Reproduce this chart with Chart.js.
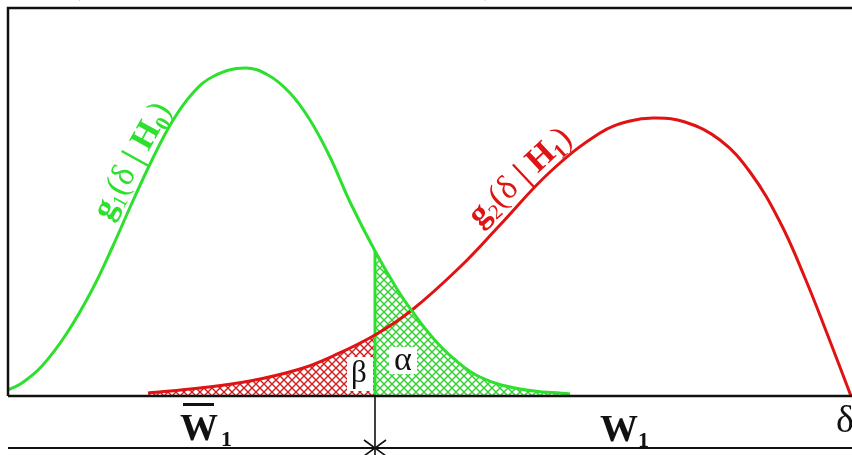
<!DOCTYPE html>
<html><head><meta charset="utf-8">
<script src="https://cdn.jsdelivr.net/npm/chart.js@4"></script>
<style>html,body{margin:0;padding:0;background:#fff;overflow:hidden}</style>
</head><body>
<canvas id="c" width="852" height="455"></canvas>
<script>
// Test statistic delta (arbitrary units) and densities
const greenX = [0, 14, 34, 59, 84, 104, 124, 144, 164, 184, 206, 237, 260, 282, 302, 322, 342, 367, 389, 404, 425, 445, 472, 512, 562];
const greenY = [6, 13, 30, 63, 106, 148, 193, 236, 274, 302, 320, 328, 321, 303, 276, 239, 194, 145, 107, 85, 58, 38, 19, 7, 2];
const redX = [140, 192, 242, 292, 325, 367, 404, 452, 492, 542, 592, 622, 647, 677, 712, 742, 772, 797, 820, 843];
const redY = [3, 8, 15, 27, 40, 61, 86, 129, 171, 224, 263, 275, 278, 274, 256, 224, 174, 118, 60, 0];
const criticalX = 367;
const xRange = [0, 844];
const yRange = [0, 388];
const curveNames = ['g1(δ|H0)', 'g2(δ|H1)'];
const areaNames = ['α', 'β'];
const regionNames = ['W̄1', 'W1'];
const axisName = 'δ';

const GREEN = '#2ee02e', RED = '#e01212';

function hatch(color) {
  const s = 8, c = document.createElement('canvas');
  c.width = s; c.height = s;
  const g = c.getContext('2d');
  g.fillStyle = '#fff'; g.fillRect(0, 0, s, s);
  g.strokeStyle = color; g.lineWidth = 1.4;
  g.beginPath();
  g.moveTo(-1, -1); g.lineTo(s + 1, s + 1);
  g.moveTo(-1, s + 1); g.lineTo(s + 1, -1);
  g.stroke();
  return g.createPattern(c, 'repeat');
}

const pts = (xs, ys) => xs.map((x, i) => ({x, y: ys[i]}));
const greenPts = pts(greenX, greenY);
const redPts = pts(redX, redY);
const alphaPts = greenPts.filter(p => p.x >= criticalX);
const betaPts = redPts.filter(p => p.x <= criticalX);
const critTop = greenY[greenX.indexOf(criticalX)];

function rich(ctx, parts, cx, cy, ang) {
  ctx.save();
  ctx.translate(cx, cy); ctx.rotate(ang);
  let w = 0;
  parts.forEach(p => { ctx.font = p.f; p.w = ctx.measureText(p.t).width; w += p.w; });
  let x = -w / 2;
  ctx.textBaseline = 'alphabetic';
  parts.forEach(p => { ctx.font = p.f; ctx.fillText(p.t, x, 11 + (p.dy || 0)); x += p.w; });
  ctx.restore();
}

const deco = {
  id: 'deco',
  afterDraw(chart) {
    const ctx = chart.ctx, a = chart.chartArea;
    const xs = chart.scales.x;
    const cp = xs.getPixelForValue(criticalX);
    ctx.save();
    // frame
    ctx.strokeStyle = '#111'; ctx.lineCap = 'butt';
    ctx.lineWidth = 2.5;
    ctx.beginPath();
    ctx.moveTo(a.left, a.bottom); ctx.lineTo(a.left, a.top); ctx.lineTo(852, a.top);
    ctx.moveTo(a.left, a.bottom); ctx.lineTo(852, a.bottom);
    ctx.stroke();
    // region line with arrows
    const ay = 448;
    ctx.lineWidth = 2;
    ctx.beginPath(); ctx.moveTo(a.left, ay); ctx.lineTo(852, ay); ctx.stroke();
    ctx.lineWidth = 1.6;
    ctx.beginPath(); ctx.moveTo(cp, a.bottom); ctx.lineTo(cp, 455); ctx.stroke();
    ctx.beginPath();
    ctx.moveTo(cp - 11, ay - 8); ctx.lineTo(cp, ay); ctx.lineTo(cp - 11, ay + 8);
    ctx.moveTo(cp + 11, ay - 8); ctx.lineTo(cp, ay); ctx.lineTo(cp + 11, ay + 8);
    ctx.stroke();
    // alpha / beta labels on white boxes
    ctx.fillStyle = '#fff';
    ctx.fillRect(cp - 28, 357, 26, 34);
    ctx.fillRect(cp + 14, 347, 28, 27);
    ctx.fillStyle = '#111';
    ctx.textAlign = 'center'; ctx.textBaseline = 'alphabetic';
    ctx.font = '31px "Liberation Serif"';
    ctx.fillText(areaNames[1], cp - 16, 382);
    ctx.font = '34px "Liberation Serif"';
    ctx.fillText(areaNames[0], cp + 28, 370);
    // region names
    ctx.textAlign = 'left';
    ctx.font = 'bold 38px "Liberation Serif"';
    ctx.fillText('W', 180, 440);
    ctx.fillText('W', 600, 441);
    ctx.font = 'bold 22px "Liberation Serif"';
    ctx.fillText('1', 221, 446);
    ctx.fillText('1', 638, 447);
    ctx.fillRect(183, 403, 31, 3);
    // axis name
    ctx.font = '38px "Liberation Serif"';
    ctx.fillText(axisName, 836, 432);
    // cut caption at top
    ctx.fillStyle = '#1a1aff';
    ctx.font = '22px "Liberation Serif"';
    ctx.fillText('(', 73, -4);
    ctx.fillText(')', 484, -4);
    // curve labels
    const B = 'bold 34px "Liberation Serif"', S = '21px "Liberation Serif"', SB = 'bold 21px "Liberation Serif"', R = '34px "Liberation Serif"';
    ctx.fillStyle = GREEN;
    rich(ctx, [{t: 'g', f: B}, {t: '1', f: S, dy: 6}, {t: '(δ', f: R}, {t: ' | ', f: B}, {t: 'H', f: B}, {t: '0', f: SB, dy: 6}, {t: ')', f: R}], 131, 160, -61 * Math.PI / 180);
    ctx.fillStyle = RED;
    rich(ctx, [{t: 'g', f: B}, {t: '2', f: S, dy: 6}, {t: '(δ', f: R}, {t: ' | ', f: B}, {t: 'H', f: B}, {t: '1', f: SB, dy: 6}, {t: ')', f: R}], 519, 176, -43 * Math.PI / 180);
    ctx.restore();
  }
};

new Chart(document.getElementById('c'), {
  type: 'line',
  data: {
    datasets: [
      {label: curveNames[0], data: greenPts, borderColor: GREEN, borderWidth: 3, pointRadius: 0, tension: 0.4, fill: false, order: 0},
      {label: curveNames[1], data: redPts, borderColor: RED, borderWidth: 3, pointRadius: 0, tension: 0.4, fill: false, order: 1},
      {label: 'crit', data: [{x: criticalX, y: 0}, {x: criticalX, y: critTop}], borderColor: GREEN, borderWidth: 3, pointRadius: 0, fill: false, order: 2},
      {label: areaNames[0], data: alphaPts, borderWidth: 0, borderColor: 'rgba(0,0,0,0)', backgroundColor: hatch('#2ed22e'), pointRadius: 0, tension: 0.4, fill: 'origin', order: 3},
      {label: areaNames[1], data: betaPts, borderWidth: 0, borderColor: 'rgba(0,0,0,0)', backgroundColor: hatch('#d41c1c'), pointRadius: 0, tension: 0.4, fill: 'origin', order: 4}
    ]
  },
  options: {
    responsive: false, animation: false,
    layout: {padding: {left: 8, top: 8, right: 0, bottom: 59}},
    plugins: {legend: {display: false}, tooltip: {enabled: false}},
    scales: {
      x: {type: 'linear', min: xRange[0], max: xRange[1], display: false},
      y: {min: yRange[0], max: yRange[1], display: false}
    }
  },
  plugins: [deco]
});
</script>
</body></html>
